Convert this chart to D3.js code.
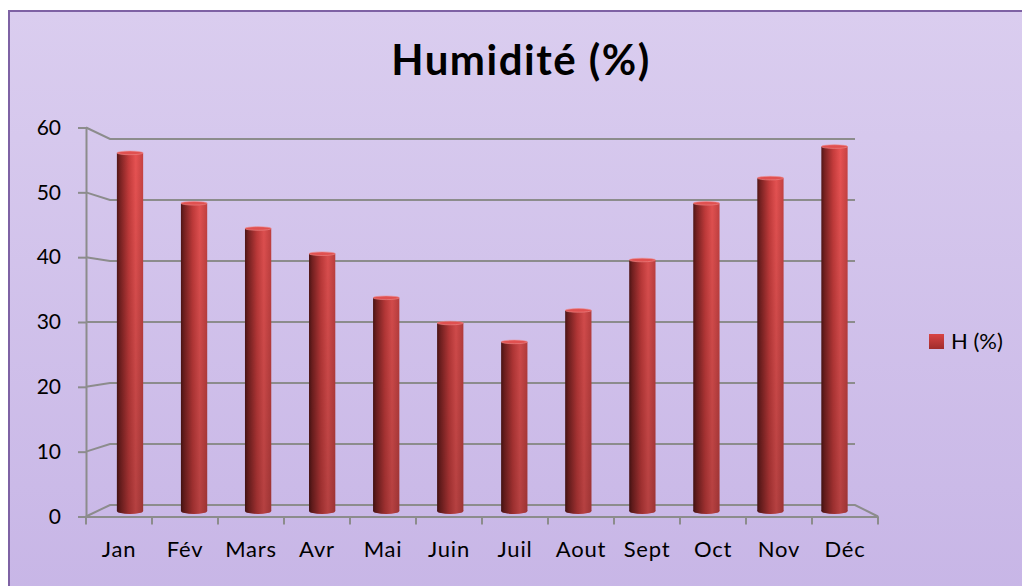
<!DOCTYPE html>
<html>
<head>
<meta charset="utf-8">
<script src="https://cdn.jsdelivr.net/npm/d3@7"></script>
<style>
  body { margin: 0; background: #fff; }
  svg { display: block; }
  text { font-family: Lato, "Open Sans", sans-serif; }
</style>
</head>
<body>
<svg id="canvas" width="1022" height="586"></svg>
<script>
// data
let months = ['Jan', 'Fév', 'Mars', 'Avr', 'Mai', 'Juin', 'Juil', 'Aout', 'Sept', 'Oct', 'Nov', 'Déc']
let humidity = [57, 49, 45, 41, 34, 30, 27, 32, 40, 49, 53, 58]
let yTicks = [0, 10, 20, 30, 40, 50, 60]
let seriesName = 'H (%)'
let title = 'Humidité (%)'

let canvas = d3.select('#canvas')
let defs = canvas.append('defs')

// background panel
let bg = defs.append('linearGradient').attr('id', 'bg')
    .attr('x1', 0).attr('y1', 0).attr('x2', 0).attr('y2', 1)
bg.append('stop').attr('offset', '0%').attr('stop-color', '#dacdef')
bg.append('stop').attr('offset', '100%').attr('stop-color', '#c7b5e6')

canvas.append('rect')
    .attr('x', 9).attr('y', 11).attr('width', 1030).attr('height', 600)
    .attr('fill', 'url(#bg)')
    .attr('stroke', '#7e62a4').attr('stroke-width', 2)

// cylinder shading
let cyl = defs.append('linearGradient').attr('id', 'cyl')
    .attr('x1', 0).attr('y1', 0).attr('x2', 1).attr('y2', 0)
cyl.append('stop').attr('offset', '0%').attr('stop-color', '#521616')
cyl.append('stop').attr('offset', '12%').attr('stop-color', '#7a2222')
cyl.append('stop').attr('offset', '45%').attr('stop-color', '#c63c3c')
cyl.append('stop').attr('offset', '72%').attr('stop-color', '#e85353')
cyl.append('stop').attr('offset', '100%').attr('stop-color', '#c74242')

let shade = defs.append('linearGradient').attr('id', 'shade')
    .attr('gradientUnits', 'userSpaceOnUse')
    .attr('x1', 0).attr('y1', 140).attr('x2', 0).attr('y2', 512)
shade.append('stop').attr('offset', '0%').attr('stop-color', '#000').attr('stop-opacity', 0)
shade.append('stop').attr('offset', '100%').attr('stop-color', '#000').attr('stop-opacity', 0.22)

let legendGrad = defs.append('linearGradient').attr('id', 'leg')
    .attr('x1', 0).attr('y1', 0).attr('x2', 0).attr('y2', 1)
legendGrad.append('stop').attr('offset', '0%').attr('stop-color', '#d84444')
legendGrad.append('stop').attr('offset', '100%').attr('stop-color', '#a02c2c')

// front plane, back wall and the middle depth where the cylinders stand
let xFront = d3.scaleBand().domain(months).range([86, 878])
let xBack = d3.scaleBand().domain(months).range([110, 855])
let xMid = d3.scaleBand().domain(months).range([98, 866.5])
let yFront = d3.scaleLinear().domain([0, 60]).range([516.5, 127.5])
let yBack = d3.scaleLinear().domain([0, 60]).range([505, 139])
let yMid = d3.scaleLinear().domain([0, 60]).range([511, 133])

let gridColor = '#8c8c8c'

// back wall + left wall gridlines
canvas.append('g').selectAll('path')
    .data(yTicks.filter(t => t > 0))
    .enter()
    .append('path')
    .attr('d', t => `M${xFront.range()[0]},${yFront(t)} L${xBack.range()[0]},${yBack(t)} L${xBack.range()[1]},${yBack(t)}`)
    .attr('fill', 'none')
    .attr('stroke', gridColor)
    .attr('stroke-width', 2)

// floor
let fl = xFront.range(), bl = xBack.range()
canvas.append('path')
    .attr('d', `M${fl[0]},${yFront(0)} L${bl[0]},${yBack(0)} L${bl[1]},${yBack(0)} L${fl[1]},${yFront(0)}`)
    .attr('fill', 'none')
    .attr('stroke', gridColor)
    .attr('stroke-width', 2)

// y axis
let yAxis = d3.axisLeft(yFront).tickValues(yTicks).tickSize(8).tickPadding(17)
let yg = canvas.append('g').attr('transform', `translate(${fl[0]},0)`).call(yAxis)
yg.select('.domain').attr('stroke', gridColor).attr('stroke-width', 2)
yg.selectAll('.tick line').attr('stroke', gridColor).attr('stroke-width', 2)
yg.selectAll('.tick text').attr('font-size', 21).attr('fill', '#000')
    .style('font-family', 'Lato, sans-serif')

// x axis: ticks at category boundaries, labels at centers
let xAxis = d3.axisBottom(xFront).tickSize(0).tickPadding(25)
let xg = canvas.append('g').attr('transform', `translate(0,${yFront(0)})`).call(xAxis)
xg.select('.domain').attr('stroke', gridColor).attr('stroke-width', 2)
xg.selectAll('.tick text').attr('font-size', 22).attr('fill', '#000')
    .attr('letter-spacing', 0.8)
    .style('font-family', 'Lato, sans-serif')
canvas.append('g').selectAll('line')
    .data(months.map(m => xFront(m)).concat([fl[1]]))
    .enter()
    .append('line')
    .attr('x1', d => d).attr('x2', d => d)
    .attr('y1', yFront(0)).attr('y2', yFront(0) + 8)
    .attr('stroke', gridColor).attr('stroke-width', 2)

// cylinders
let barW = xMid.step() * 0.41
let bars = canvas.append('g').selectAll('g')
    .data(months.map((m, i) => ({ m: m, v: humidity[i] })))
    .enter()
    .append('g')
    .attr('transform', d => `translate(${xMid(d.m) + xMid.step() / 2 - barW / 2},0)`)

bars.append('ellipse')
    .attr('cx', barW / 2).attr('cy', yMid(0))
    .attr('rx', barW / 2).attr('ry', 3)
    .attr('fill', 'url(#cyl)')
bars.append('ellipse')
    .attr('cx', barW / 2).attr('cy', yMid(0))
    .attr('rx', barW / 2).attr('ry', 3)
    .attr('fill', 'url(#shade)')
bars.append('rect')
    .attr('x', 0).attr('width', barW)
    .attr('y', d => yMid(d.v) + 1)
    .attr('height', d => yMid(0) - yMid(d.v) - 1)
    .attr('fill', 'url(#cyl)')
bars.append('rect')
    .attr('x', 0).attr('width', barW)
    .attr('y', d => yMid(d.v) + 1)
    .attr('height', d => yMid(0) - yMid(d.v) - 1)
    .attr('fill', 'url(#shade)')
bars.append('ellipse')
    .attr('cx', barW / 2).attr('cy', d => yMid(d.v) + 1)
    .attr('rx', barW / 2).attr('ry', 1.8)
    .attr('fill', '#e05050')
    .attr('stroke', '#ef8a8a').attr('stroke-width', 0.6)

// title
canvas.append('text')
    .attr('x', 521).attr('y', 75)
    .attr('text-anchor', 'middle')
    .attr('font-size', 42).attr('font-weight', 'bold')
    .attr('letter-spacing', 1.5)
    .text(title)

// legend
canvas.append('rect')
    .attr('x', 929).attr('y', 334).attr('width', 15).attr('height', 15)
    .attr('fill', 'url(#leg)')
canvas.append('text')
    .attr('x', 951).attr('y', 349)
    .attr('font-size', 22)
    .text(seriesName)
</script>
</body>
</html>
